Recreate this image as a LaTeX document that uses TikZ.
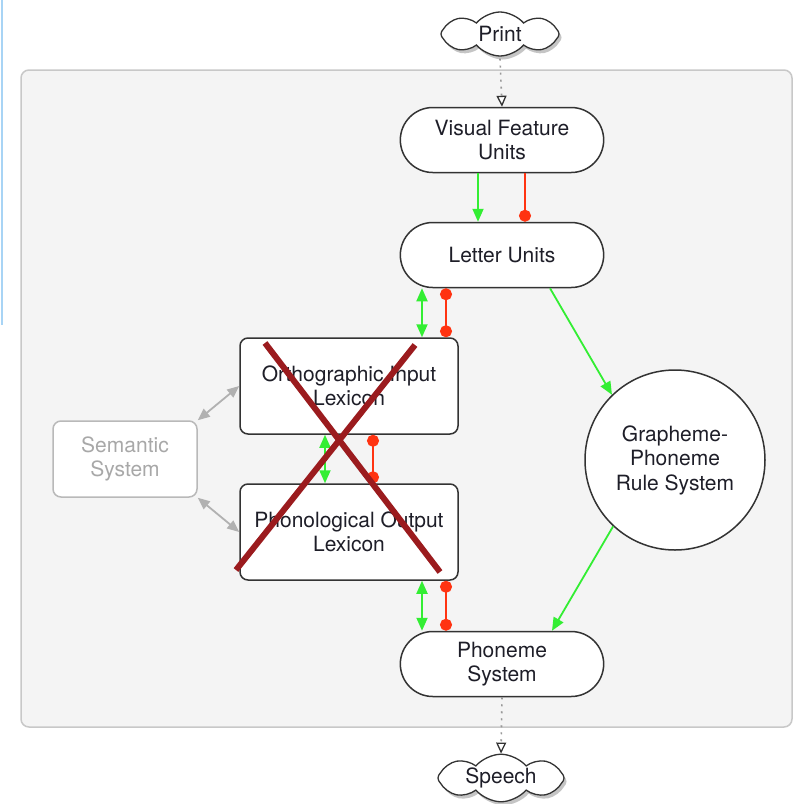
\documentclass[tikz,border=0pt]{standalone}
\usepackage{fontspec}
\setmainfont{TeX Gyre Heros}
\usetikzlibrary{shapes.misc,shapes.symbols,arrows.meta,shadows}
\definecolor{panelfill}{HTML}{F4F4F4}
\definecolor{panelline}{HTML}{C8C8C8}
\definecolor{boxline}{HTML}{333333}
\definecolor{txt}{HTML}{1E1E28}
\definecolor{semgray}{HTML}{A8A8A8}
\definecolor{exgreen}{HTML}{33EE33}
\definecolor{inred}{HTML}{FF3311}
\definecolor{crossred}{HTML}{9B1B1E}
\definecolor{edgeblue}{HTML}{A8D4F5}
\begin{document}
\begin{tikzpicture}[x=1pt,y=-1pt,
  labelfont/.style={font=\fontsize{21}{24.5}\selectfont},
  unit/.style={rounded rectangle, draw=boxline, line width=1.5pt, fill=white,
    minimum width=210pt, minimum height=65pt, align=center, labelfont, text=txt},
  lexbox/.style={rectangle, rounded corners=8pt, draw=boxline, line width=1.5pt,
    fill=white, minimum width=218pt, minimum height=96pt, align=center, labelfont, text=txt},
  rulecircle/.style={circle, draw=boxline, line width=1.5pt, fill=white,
    minimum size=180pt, align=center, labelfont, text=txt},
  sembox/.style={rectangle, rounded corners=8pt, draw=semgray!80, line width=1.5pt,
    fill=white, minimum width=144pt, minimum height=76pt, align=center, labelfont, text=semgray},
  puff/.style={cloud, cloud puffs=8, cloud puff arc=100, cloud ignores aspect,
    draw=boxline, line width=1.3pt,
    fill=white, inner sep=1pt, minimum width=118pt, minimum height=44pt,
    labelfont, text=txt,
    drop shadow={shadow xshift=2.5pt, shadow yshift=-3.5pt, opacity=0.45}},
  excite/.style={draw=exgreen, line width=1.8pt, -{Triangle[length=13pt,width=11pt]}},
  excitetwo/.style={draw=exgreen, line width=1.8pt,
    {Triangle[length=13pt,width=11pt]}-{Triangle[length=13pt,width=11pt]}},
  inhibit/.style={draw=inred, line width=1.8pt, -{Circle[length=12pt]}},
  inhibittwo/.style={draw=inred, line width=1.8pt, {Circle[length=12pt]}-{Circle[length=12pt]}},
  semlink/.style={draw=semgray!90, line width=1.8pt,
    {Triangle[length=12pt,width=10pt]}-{Triangle[length=12pt,width=10pt]}},
  flow/.style={draw=gray!80, line width=1.6pt, dash pattern=on 2pt off 5pt,
    -{Triangle[open,length=11pt,width=10pt,fill=white,line width=1.3pt,color=boxline]}},
  crossline/.style={draw=crossred, line width=6pt}
]
\useasboundingbox (0,0) rectangle (796,804);
\fill[white] (0,0) rectangle (796,804);
% thin blue rule on the far left
\draw[edgeblue, line width=2pt] (2,0) -- (2,325);
% background panel
\draw[panelline, fill=panelfill, line width=1.5pt, rounded corners=8pt] (21,70) rectangle (792,727);

% nodes
\node[puff] (print) at (500,34) {Print};
\node[unit] (vfu) at (502,140) {Visual Feature\\Units};
\node[unit] (letter) at (502,255) {Letter Units};
\node[lexbox] (ortho) at (349,386) {Orthographic Input\\Lexicon};
\node[lexbox] (phon) at (349,532) {Phonological Output\\Lexicon};
\node[sembox] (sem) at (125,459) {Semantic\\System};
\node[rulecircle] (gpr) at (675,460) {Grapheme-\\Phoneme\\Rule System};
\node[unit] (phoneme) at (502,664) {Phoneme\\System};
\node[puff, minimum width=126pt] (speech) at (501,778) {Speech};

% input and output flows
\draw[flow] ([yshift=-2pt]print.south) -- (vfu.north);
\draw[flow] (phoneme.south) -- (speech.north);

% visual features to letters
\draw[excite] ([xshift=-24pt]vfu.south) -- ([xshift=-24pt]letter.north);
\draw[inhibit] ([xshift=23pt]vfu.south) -- ([xshift=23pt]letter.north);

% lexical route
\draw[excitetwo] ([xshift=-80pt]letter.south) -- ([xshift=73pt]ortho.north);
\draw[inhibittwo] ([xshift=-56pt]letter.south) -- ([xshift=97pt]ortho.north);
\draw[excitetwo] ([xshift=-24pt]ortho.south) -- ([xshift=-24pt]phon.north);
\draw[inhibittwo] ([xshift=24pt]ortho.south) -- ([xshift=24pt]phon.north);
\draw[excitetwo] ([xshift=73pt]phon.south) -- ([xshift=-80pt]phoneme.north);
\draw[inhibittwo] ([xshift=97pt]phon.south) -- ([xshift=-56pt]phoneme.north);

% nonlexical route
\draw[excite] ([xshift=48pt]letter.south) -- (gpr.134);
\draw[excite] (gpr.227) -- ([xshift=50pt]phoneme.north);

% semantic links
\draw[semlink] (sem.north east) -- (ortho.west);
\draw[semlink] (sem.south east) -- (phon.west);

% lesion mark over the lexicons
\draw[crossline] (265,343) -- (440,572);
\draw[crossline] (415,345) -- (236,570);
\end{tikzpicture}
\end{document}
